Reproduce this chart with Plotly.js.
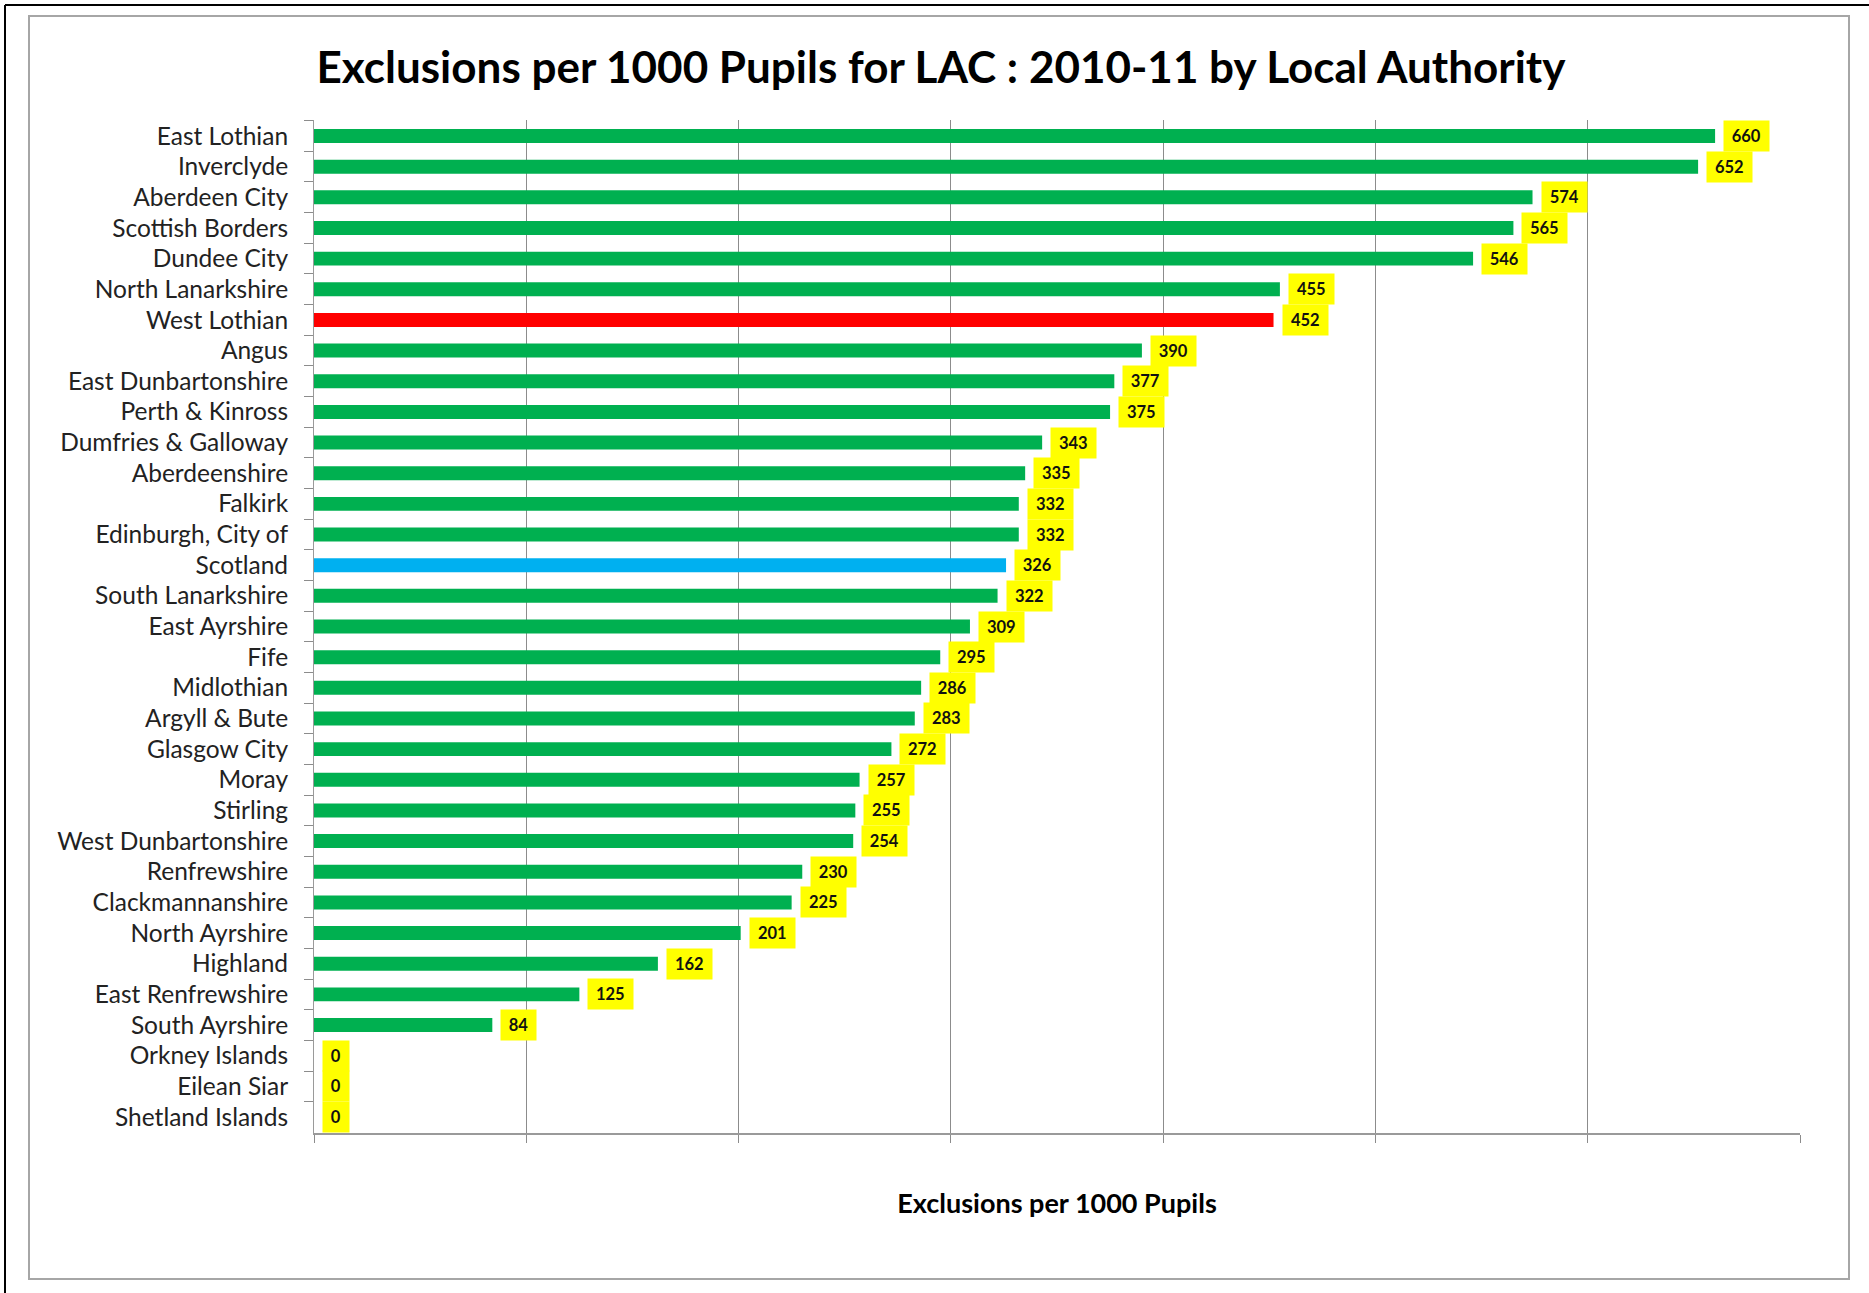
<!DOCTYPE html>
<html>
<head>
<meta charset="utf-8">
<script src="https://cdn.plot.ly/plotly-3.0.1.min.js"></script>
<style>
  html, body { margin: 0; padding: 0; background: #ffffff; }
  #chart { width: 1869px; height: 1293px; }
</style>
</head>
<body>
<div id="chart"></div>
<script>
// Local authorities, top to bottom
const authorities = [
  "East Lothian", "Inverclyde", "Aberdeen City", "Scottish Borders", "Dundee City",
  "North Lanarkshire", "West Lothian", "Angus", "East Dunbartonshire", "Perth & Kinross",
  "Dumfries & Galloway", "Aberdeenshire", "Falkirk", "Edinburgh, City of", "Scotland",
  "South Lanarkshire", "East Ayrshire", "Fife", "Midlothian", "Argyll & Bute",
  "Glasgow City", "Moray", "Stirling", "West Dunbartonshire", "Renfrewshire",
  "Clackmannanshire", "North Ayrshire", "Highland", "East Renfrewshire", "South Ayrshire",
  "Orkney Islands", "Eilean Siar", "Shetland Islands"
];

// Exclusions per 1000 pupils (looked-after children), 2010-11
const exclusionsPer1000 = [
  660, 652, 574, 565, 546,
  455, 452, 390, 377, 375,
  343, 335, 332, 332, 326,
  322, 309, 295, 286, 283,
  272, 257, 255, 254, 230,
  225, 201, 162, 125, 84,
  0, 0, 0
];

// Highlighted bars
const highlightAuthority = "West Lothian";
const nationalTotal = "Scotland";

const titleText = "Exclusions per 1000 Pupils for LAC : 2010-11 by Local Authority";
const xAxisTitle = "Exclusions per 1000 Pupils";

// Colours
const GREEN = "#00B050";
const RED = "#FF0000";
const BLUE = "#00B0F0";
const LABEL_BG = "#FFFF00";
const GRID = "#8c8c8c";

const W = 1869, H = 1293;
const M = { l: 314, r: 69, t: 120, b: 160 };
const plotW = W - M.l - M.r, plotH = H - M.t - M.b;
// pixel position on the page -> paper coordinates
const px = x => (x - M.l) / plotW;
const py = y => (H - M.b - y) / plotH;

const barColors = authorities.map(a =>
  a === highlightAuthority ? RED : (a === nationalTotal ? BLUE : GREEN));

const trace = {
  type: "bar",
  orientation: "h",
  x: exclusionsPer1000,
  y: authorities,
  marker: { color: barColors, line: { width: 0 } },
  hoverinfo: "x+y"
};

// Yellow value tags to the right of each bar
const valueTags = authorities.map((a, i) => {
  const t = String(exclusionsPer1000[i]);
  return {
    x: exclusionsPer1000[i], y: a, xref: "x", yref: "y",
    text: "<b>" + t + "</b>",
    showarrow: false,
    xanchor: "left", yanchor: "middle",
    xshift: 8,
    bgcolor: LABEL_BG,
    borderpad: 0,
    width: t.length * 9.5 + 16,
    height: 30,
    align: "center", valign: "middle",
    font: { family: "Lato, sans-serif", size: 16.5, color: "#111111" }
  };
});

const layout = {
  width: W, height: H,
  margin: M,
  paper_bgcolor: "#ffffff",
  plot_bgcolor: "#ffffff",
  showlegend: false,
  bargap: 0.545,
  title: {
    text: "<b>" + titleText + "</b>",
    x: 941 / W, xanchor: "center", xref: "container",
    y: 1 - 68 / H, yanchor: "middle", yref: "container",
    font: { family: "Lato, sans-serif", size: 44, color: "#000000" }
  },
  xaxis: {
    range: [0, 700],
    dtick: 100, tick0: 0,
    showticklabels: false,
    showgrid: true, gridcolor: GRID, gridwidth: 1,
    zeroline: false,
    showline: true, linecolor: "#9a9a9a", linewidth: 2,
    ticks: "outside", ticklen: 8, tickcolor: GRID, tickwidth: 1,
    title: {
      text: "<b>" + xAxisTitle + "</b>",
      standoff: 52,
      font: { family: "Lato, sans-serif", size: 27, color: "#000000" }
    },
    fixedrange: true
  },
  yaxis: {
    type: "category",
    autorange: "reversed",
    showgrid: false,
    zeroline: false,
    showline: true, linecolor: "#9a9a9a", linewidth: 1,
    ticks: "outside", ticklen: 9, tickcolor: GRID, tickwidth: 1,
    tickson: "boundaries",
    ticklabelstandoff: 20,
    tickfont: { family: "Lato, sans-serif", size: 24.5, color: "#222222" },
    fixedrange: true
  },
  annotations: valueTags,
  shapes: [
    // inner grey chart frame
    { type: "rect", xref: "paper", yref: "paper",
      x0: px(29), x1: px(1849), y0: py(1279), y1: py(16),
      line: { color: "#a6a6a6", width: 2 }, layer: "below" },
    // outer black edges
    { type: "line", xref: "paper", yref: "paper",
      x0: px(5), x1: px(W), y0: py(5), y1: py(5),
      line: { color: "#000000", width: 2 } },
    { type: "line", xref: "paper", yref: "paper",
      x0: px(5), x1: px(5), y0: py(5), y1: py(H),
      line: { color: "#000000", width: 2 } }
  ]
};

Plotly.newPlot("chart", [trace], layout, { displayModeBar: false, staticPlot: true });
</script>
</body>
</html>
